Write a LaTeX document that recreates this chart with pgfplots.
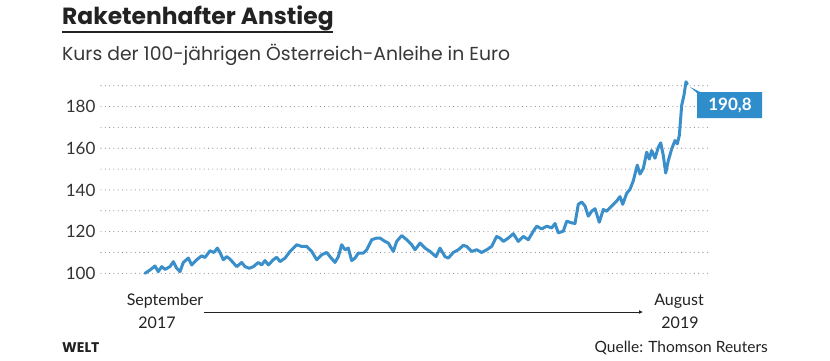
\documentclass[border=0pt]{standalone}
\usepackage{pgfplots}
\pgfplotsset{compat=1.18}
\usetikzlibrary{arrows.meta}
\usepackage{fontspec}
\setmainfont{Lato}
\newfontfamily\titlefont{Poppins}
\definecolor{lineblue}{HTML}{3A8FCB}
\definecolor{boxblue}{HTML}{2F8DCB}
\definecolor{txt}{HTML}{222222}
\definecolor{ticktxt}{HTML}{333333}
\definecolor{gridgray}{HTML}{8A8A8A}
\pgfplotstableread{
x y
145.0 100.0
150.0 101.6
155.0 103.5
158.3 100.8
161.7 103.2
165.0 101.9
170.0 103.2
173.3 105.6
176.7 102.4
180.0 100.8
183.3 105.2
188.3 107.3
191.7 104.0
196.7 106.5
201.7 108.4
205.0 107.6
210.0 110.8
214.0 110.0
217.3 112.1
220.0 110.0
223.3 106.5
226.7 108.0
230.0 106.8
236.7 103.2
241.7 105.2
245.0 103.2
249.3 102.4
253.3 103.2
258.3 105.2
261.7 104.0
265.0 106.1
268.3 104.0
273.3 106.5
276.7 107.7
280.0 105.6
285.0 107.3
290.0 110.5
296.7 113.7
301.7 112.9
306.7 112.9
311.7 110.5
316.7 106.5
321.7 108.9
326.7 110.0
330.0 108.0
335.0 105.2
338.3 108.0
341.7 113.7
345.0 111.3
348.3 112.1
351.7 106.1
355.0 107.3
358.3 109.7
363.3 109.7
366.7 111.3
371.7 116.1
376.7 116.9
380.0 116.9
385.0 115.3
388.3 114.5
393.3 110.5
396.7 115.3
401.7 118.1
406.7 116.1
411.7 113.7
415.0 111.3
420.0 114.5
421.7 113.7
425.0 112.1
430.0 110.5
436.0 108.0
440.0 112.1
445.0 108.0
448.3 107.3
453.3 110.0
458.3 111.3
463.3 113.4
466.7 112.9
471.7 110.5
476.7 111.3
481.7 110.0
486.7 111.3
491.7 112.9
496.7 117.7
500.0 116.9
503.3 115.3
508.3 116.9
513.3 119.0
518.3 115.3
523.3 117.7
528.3 116.1
533.3 120.2
536.7 122.6
541.7 121.3
546.7 122.6
551.7 121.8
555.0 123.9
558.3 119.4
563.3 120.2
566.7 125.0
571.7 124.2
575.0 123.9
578.3 133.1
581.7 134.2
585.0 132.3
588.3 127.4
591.7 129.8
595.0 131.0
599.3 124.5
603.3 130.6
606.7 129.8
611.7 132.3
616.7 134.7
620.0 136.8
622.7 133.1
626.7 138.4
630.0 140.3
633.3 144.4
637.3 151.9
640.0 147.6
643.3 150.3
646.7 158.1
649.3 154.8
651.7 158.9
655.0 155.2
658.3 160.5
660.7 162.6
663.3 156.5
665.7 148.1
668.3 154.0
671.7 159.7
675.0 163.7
677.3 162.1
679.3 166.1
681.7 180.6
684.0 185.5
686.0 191.9
687.3 190.8
}\kurs
\begin{document}
\begin{tikzpicture}[x=1pt,y=1pt]
\fill[white] (0,0) rectangle (830,360);
% title
\node[anchor=base west, inner sep=0, font=\titlefont\fontsize{23.4}{28}\selectfont\bfseries, text=txt] at (62,336) {Raketenhafter Anstieg};
\draw[txt, line width=2pt] (62,328) -- (333,328);
\node[anchor=base west, inner sep=0, font=\titlefont\fontsize{18.8}{22}\selectfont, text=txt!90] at (62,300) {Kurs der 100-jährigen Österreich-Anleihe in Euro};
\begin{axis}[
  at={(101pt,86.7pt)}, anchor=south west,
  scale only axis, width=609pt, height=187.6pt,
  xmin=101, xmax=710, ymin=100, ymax=190,
  clip=false,
  axis line style={draw=none},
  xtick=\empty,
  ytick={100,110,...,190},
  yticklabels={100,,120,,140,,160,,180,},
  major tick length=0pt,
  ymajorgrids,
  grid style={gridgray, line width=1.1pt, line cap=round, dash pattern=on 0pt off 4.3pt},
  yticklabel style={font=\fontsize{17}{20}\selectfont, text=ticktxt, anchor=east, xshift=-2pt},
]
\addplot[lineblue, line width=3pt, line join=round, line cap=round] table[x=x,y=y] {\kurs};
\end{axis}
% value label
\fill[boxblue] (690,273) -- (700,268) -- (762,268) -- (762,242) -- (697,242) -- (697,267) -- cycle;
\node[anchor=center, font=\fontsize{17}{20}\selectfont\bfseries, text=white] at (730,255) {190,8};
% time arrow
\node[anchor=base, font=\fontsize{16}{20}\selectfont, text=txt] at (165,55) {September};
\node[anchor=base, font=\fontsize{16}{20}\selectfont, text=txt] at (157,32) {2017};
\node[anchor=base, font=\fontsize{16}{20}\selectfont, text=txt] at (679,55) {August};
\node[anchor=base, font=\fontsize{16}{20}\selectfont, text=txt] at (680,32) {2019};
\draw[txt, line width=0.8pt, -{Latex[length=4pt,width=4pt]}] (204,48) -- (643,48);
% footer
\node[anchor=base west, inner sep=0, font=\titlefont\fontsize{14}{16}\selectfont\bfseries, text=txt] at (62,8) {WELT};
\node[anchor=base east, inner sep=0, font=\fontsize{15.5}{18}\selectfont, text=txt] at (768,8) {Quelle: Thomson Reuters};
\end{tikzpicture}
\end{document}
